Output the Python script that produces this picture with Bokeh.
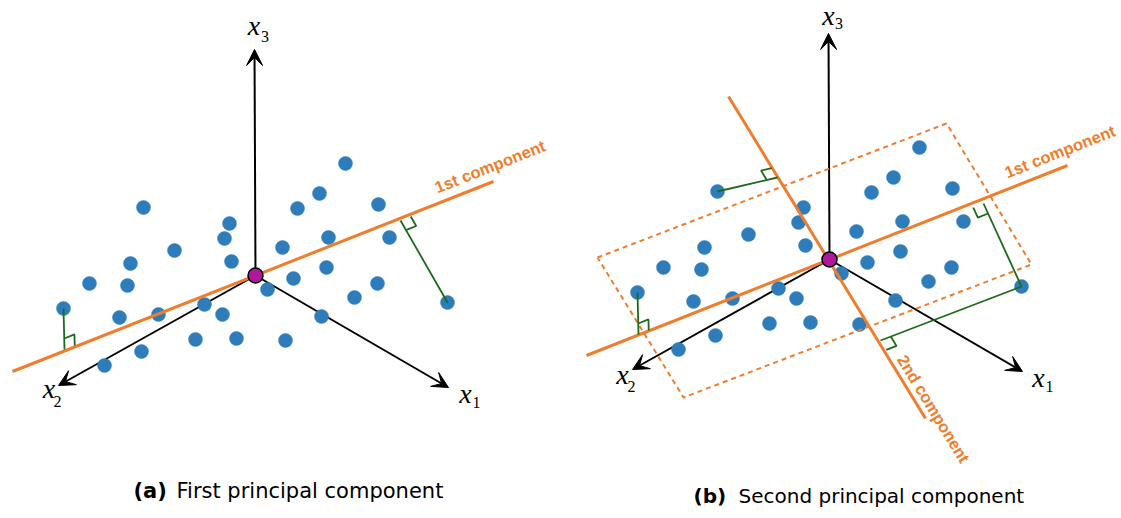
import numpy as np
from bokeh.plotting import figure
from bokeh.models import Range1d, Arrow, VeeHead, ColumnDataSource
from bokeh.embed import file_html
from bokeh.resources import INLINE
from bokeh.core.properties import value

# ---------------- data (diagram coordinates, relative to each panel's origin, y downward) -------------
point_dx = [-112, -26, -31, -81, -125, -24, -166, -128, 12, -192, -136, -97, -51, -33, -60, -19,
            -114, -151, 30, 90, 64, 42, 123, 27, 73, 134, 71, 38, 122, 99, 192, 66]
point_dy = [-68, -52, -37, -25, -12, -14, 8, 10, 14, 33, 42, 39, 29, 39, 64, 63,
            76, 90, 65, -112, -82, -67, -71, -28, -38, -38, -8, 3, 8, 22, 27, 41]

panel_ox = [255, 829]
panel_oy = [275, 259]

# coordinate axes (tips relative to origin)
axis_names = ["x1", "x2", "x3"]
axis_tip_dx = [193, -197, -1]
axis_tip_dy = [112, 110, -226]

# principal component lines (relative to origin)
pc1_dx = [-243, 238]
pc1_dy = [96, -94]
pc2_dx = [-101, 96]
pc2_dy = [-163, 159]

# dashed bounding box in panel (b)
box_dx = [-232, 117, 202, -146]
box_dy = [-2, -136, 5, 138]

# projections: panel, point index, foot (relative), side of right-angle mark
proj_panel = [0, 0, 1, 1, 1, 1]
proj_point = [30, 9, 0, 9, 30, 30]
proj_foot_dx = [145, -191, -52, -191, 154, 51]
proj_foot_dy = [-55, 74, -82, 75, -56, 81]
proj_side = ["c1+", "c1+", "c2-", "c1+", "c1-", "c2+"]

# axis labels (absolute baseline positions per panel)
lab_main_x = [465, 48.5, 253.5, 1038, 622, 828]
lab_main_y = [403, 398, 35, 387, 384, 25]
lab_sub_x = [476, 57, 264.5, 1049, 631, 838.5]
lab_sub_y = [408, 407, 42, 392, 392, 29]
lab_sub_text = ["1", "2", "3", "1", "2", "3"]

captions_bold = ["(a)", "(b)"]
captions_text = ["First principal component", "Second principal component"]
cap_bold_x = [133, 693]
cap_text_x = [176, 738]
cap_y = [498, 503]
cap_size = ["21px", "20px"]

comp_labels = ["1st component", "1st component", "2nd component"]
comp_label_panel = [0, 1, 1]
comp_label_dx = [182, 178, 67]
comp_label_dy = [-82, -81, 100]

BLUE = "#2e7dba"
ORANGE = "#ef7d2d"
GREEN = "#1c6b1c"
MAGENTA = "#b0189c"

W, H = 1121, 518
# renderer places the alphabetic baseline slightly low; compensate (fraction of font size)
BASE_FIX = 0.36

# ---------------- figure ----------------
p = figure(width=W, height=H, x_range=Range1d(0, W), y_range=Range1d(H, 0),
           output_backend="svg", toolbar_location=None, min_border=0,
           x_axis_location=None, y_axis_location=None)
p.grid.visible = False
p.outline_line_color = None
p.background_fill_color = "white"

# coordinate axes as arrows
ax_src = dict(x0=[], y0=[], x1=[], y1=[])
for ox, oy in zip(panel_ox, panel_oy):
    for tx_, ty_ in zip(axis_tip_dx, axis_tip_dy):
        ax_src["x0"].append(ox)
        ax_src["y0"].append(oy)
        ax_src["x1"].append(ox + tx_)
        ax_src["y1"].append(oy + ty_)
arrows = Arrow(end=VeeHead(size=16, fill_color="black", line_color="black", line_width=1),
               x_start="x0", y_start="y0", x_end="x1", y_end="y1",
               source=ColumnDataSource(ax_src), line_color="black", line_width=2,
               level="underlay")
p.add_layout(arrows)

# data points for both panels
for ox, oy in zip(panel_ox, panel_oy):
    p.scatter([ox + dx for dx in point_dx], [oy + dy for dy in point_dy],
              size=14, fill_color=BLUE, line_color=BLUE, line_width=0.5)

# dashed box (panel b)
ox, oy = panel_ox[1], panel_oy[1]
bx = [ox + d for d in box_dx] + [ox + box_dx[0]]
by = [oy + d for d in box_dy] + [oy + box_dy[0]]
p.line(bx, by, line_color=ORANGE, line_width=2, line_dash="5 4")

# principal component lines
for ox, oy in zip(panel_ox, panel_oy):
    p.line([ox + d for d in pc1_dx], [oy + d for d in pc1_dy], line_color=ORANGE, line_width=3)
ox, oy = panel_ox[1], panel_oy[1]
p.line([ox + d for d in pc2_dx], [oy + d for d in pc2_dy], line_color=ORANGE, line_width=3)

# projection lines and right-angle marks
c1 = np.array([pc1_dx[1] - pc1_dx[0], pc1_dy[1] - pc1_dy[0]], dtype=float)
c1 /= np.linalg.norm(c1)
c2 = np.array([pc2_dx[1] - pc2_dx[0], pc2_dy[1] - pc2_dy[0]], dtype=float)
c2 /= np.linalg.norm(c2)
dirs = {"c1+": c1, "c1-": -c1, "c2+": c2, "c2-": -c2}
s = 11
gxs, gys, mxs, mys = [], [], [], []
for pan, idx, fx, fy, side in zip(proj_panel, proj_point, proj_foot_dx, proj_foot_dy, proj_side):
    ox, oy = panel_ox[pan], panel_oy[pan]
    P = np.array([ox + point_dx[idx], oy + point_dy[idx]], dtype=float)
    F = np.array([ox + fx, oy + fy], dtype=float)
    gxs.append([P[0], F[0]])
    gys.append([P[1], F[1]])
    d1 = (P - F) / np.linalg.norm(P - F)
    d2 = dirs[side]
    a = F + s * d1
    b = a + s * d2
    c = F + s * d2
    mxs.append([a[0], b[0], c[0]])
    mys.append([a[1], b[1], c[1]])
p.multi_line(gxs, gys, line_color=GREEN, line_width=1.8)
p.multi_line(mxs, mys, line_color=GREEN, line_width=1.8)

# origins
p.scatter(panel_ox, panel_oy, size=15, fill_color=MAGENTA, line_color="black", line_width=1.5)

# component labels
FS_COMP = 16.5
ang1 = float(np.arctan2(-c1[1], c1[0]))
ang2 = float(-np.arctan2(c2[1], c2[0]))
angles = [ang1, ang1, ang2]
tx, ty = [], []
for pn, dx, dy, ang in zip(comp_label_panel, comp_label_dx, comp_label_dy, angles):
    upx, upy = -np.sin(ang), -np.cos(ang)   # screen "up" of rotated text
    tx.append(panel_ox[pn] + dx + BASE_FIX * FS_COMP * upx)
    ty.append(panel_oy[pn] + dy + BASE_FIX * FS_COMP * upy)
p.text(tx, ty, text=comp_labels, angle=angles, text_font=value("Liberation Sans"),
       text_font_style="bold", text_font_size=f"{FS_COMP}px", text_color=ORANGE,
       text_align="left", text_baseline="alphabetic")

# axis labels
FS_X, FS_SUB = 28, 16
p.text(lab_main_x, [y - BASE_FIX * FS_X for y in lab_main_y], text=["x"] * 6,
       text_font=value("Liberation Serif"),
       text_font_style="italic", text_font_size=f"{FS_X}px", text_color="black",
       text_align="center", text_baseline="alphabetic")
p.text(lab_sub_x, [y - BASE_FIX * FS_SUB for y in lab_sub_y], text=lab_sub_text,
       text_font=value("Liberation Serif"),
       text_font_size=f"{FS_SUB}px", text_color="black",
       text_align="center", text_baseline="alphabetic")

# captions
cap_src = ColumnDataSource(dict(
    xb=cap_bold_x, xt=cap_text_x,
    y=[y - BASE_FIX * float(fs[:-2]) for y, fs in zip(cap_y, cap_size)],
    tb=captions_bold, tt=captions_text, fs=cap_size))
p.text("xb", "y", text="tb", source=cap_src, text_font=value("DejaVu Sans"),
       text_font_style="bold", text_font_size="fs", text_color="black",
       text_align="left", text_baseline="alphabetic")
p.text("xt", "y", text="tt", source=cap_src, text_font=value("DejaVu Sans"),
       text_font_size="fs", text_color="black",
       text_align="left", text_baseline="alphabetic")

open("out.html", "w").write(file_html(p, INLINE))
